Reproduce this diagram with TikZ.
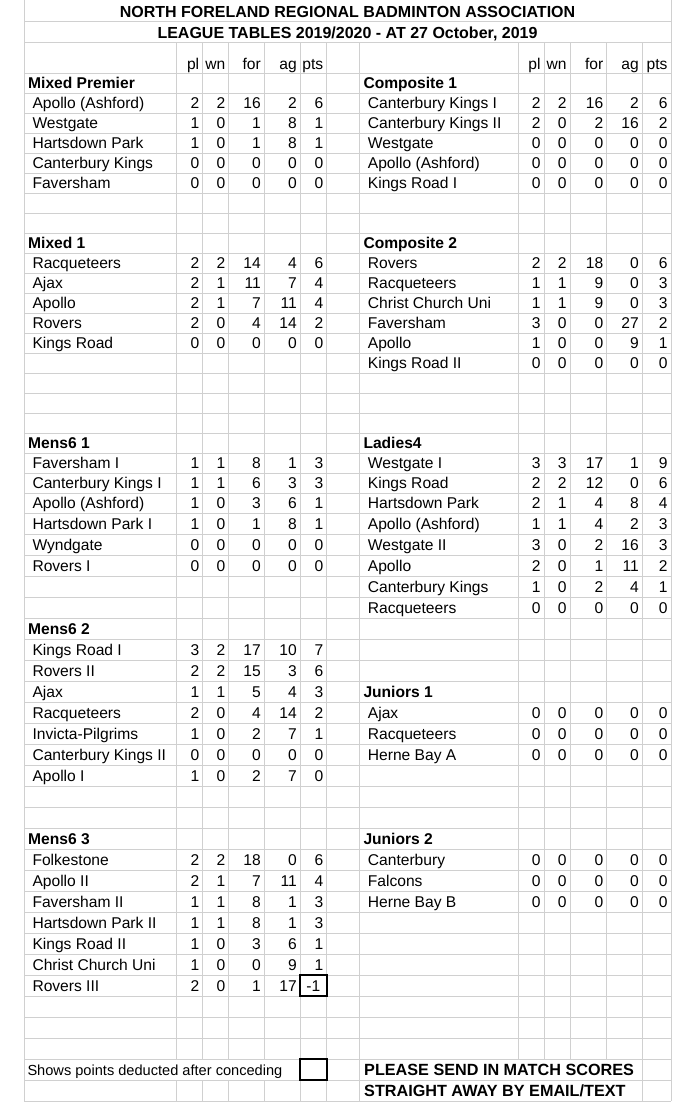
\documentclass[tikz,border=0pt]{standalone}
\usepackage{fontspec}
\setmainfont{Liberation Sans}
\definecolor{gridc}{RGB}{208,208,208}
\begin{document}
\begin{tikzpicture}[x=1pt,y=-1pt,
  declare function={rt(\r)=(\r<=22)*(73.3+20*\r)+(\r>22)*(513.3+21*(\r-22));},
  grid/.style={draw=gridc,line width=1pt},
  boxc/.style={draw=black,line width=2pt},
  txt/.style={inner sep=0pt,font=\fontsize{15.6}{18}\selectfont},
  nm/.style={txt,anchor=base west},
  num/.style={txt,anchor=base east},
  hd/.style={inner sep=0pt,anchor=base west,font=\fontsize{15.6}{18}\selectfont\bfseries},
  ft/.style={inner sep=0pt,anchor=base west,font=\fontsize{16.2}{18}\selectfont\bfseries},
  ttl/.style={inner sep=0pt,anchor=base,font=\fontsize{16}{18}\selectfont\bfseries}]
\useasboundingbox[fill=white] (0,0) rectangle (696,1102);

% ---- grid ----
\draw[grid] (24,21.7) -- (671,21.7);
\draw[grid] (24,42.7) -- (671,42.7);
\foreach \r in {0,...,50}{
  \pgfmathsetmacro\yy{rt(\r)}
  \draw[grid] (24,\yy) -- (671,\yy);
}
\draw[grid] (24,0) -- (24,1101.3);
\draw[grid] (671,0) -- (671,1101.3);
\foreach \x in {300.3,326.7,359.3,642.3}{
  \draw[grid] (\x,42.7) -- (\x,1101.3);
}
\foreach \x in {176.7,202.7,228.7,264.3}{
  \draw[grid] (\x,42.7) -- (\x,1059.3);
  \draw[grid] (\x,1080.3) -- (\x,1101.3);
}
\foreach \x in {518.3,544,570,606.7}{
  \draw[grid] (\x,42.7) -- (\x,1059.3);
}

% ---- titles ----
\node[ttl] (title1) at (347.5,17.3) {NORTH FORELAND REGIONAL BADMINTON ASSOCIATION};
\node[ttl] (title2) at (347.5,38.3) {LEAGUE TABLES 2019/2020 - AT 27 October, 2019};

% ---- column headers ----
\foreach \t/\x in {pl/199.4,wn/225.4,for/261,ag/297,pts/323.4}{
  \node[num] (HL\t) at (\x,69.3) {\t};
}
\foreach \t/\x in {pl/540.7,wn/566.7,for/603.4,ag/639,pts/667.7}{
  \node[num] (HR\t) at (\x,69.3) {\t};
}

% ---- section headings ----
\foreach \r/\n in {0/Mixed Premier,8/Mixed 1,18/Mens6 1,27/Mens6 2,37/Mens6 3}{
  \pgfmathsetmacro\yb{rt(\r+1)-4.5}
  \node[hd] (SL\r) at (28,\yb) {\n};
}
\foreach \r/\n in {0/Composite 1,8/Composite 2,18/Ladies4,30/Juniors 1,37/Juniors 2}{
  \pgfmathsetmacro\yb{rt(\r+1)-4.5}
  \node[hd] (SR\r) at (363.3,\yb) {\n};
}

% ---- left tables ----
\foreach \r/\n/\a/\b/\c/\d/\e in {
  1/Apollo (Ashford)/2/2/16/2/6,
  2/Westgate/1/0/1/8/1,
  3/Hartsdown Park/1/0/1/8/1,
  4/Canterbury Kings/0/0/0/0/0,
  5/Faversham/0/0/0/0/0,
  9/Racqueteers/2/2/14/4/6,
  10/Ajax/2/1/11/7/4,
  11/Apollo/2/1/7/11/4,
  12/Rovers/2/0/4/14/2,
  13/Kings Road/0/0/0/0/0,
  19/Faversham I/1/1/8/1/3,
  20/Canterbury Kings I/1/1/6/3/3,
  21/Apollo (Ashford)/1/0/3/6/1,
  22/Hartsdown Park I/1/0/1/8/1,
  23/Wyndgate/0/0/0/0/0,
  24/Rovers I/0/0/0/0/0,
  28/Kings Road I/3/2/17/10/7,
  29/Rovers II/2/2/15/3/6,
  30/Ajax/1/1/5/4/3,
  31/Racqueteers/2/0/4/14/2,
  32/Invicta-Pilgrims/1/0/2/7/1,
  33/Canterbury Kings II/0/0/0/0/0,
  34/Apollo I/1/0/2/7/0,
  38/Folkestone/2/2/18/0/6,
  39/Apollo II/2/1/7/11/4,
  40/Faversham II/1/1/8/1/3,
  41/Hartsdown Park II/1/1/8/1/3,
  42/Kings Road II/1/0/3/6/1,
  43/Christ Church Uni/1/0/0/9/1}{
  \pgfmathsetmacro\yb{rt(\r+1)-4.5}
  \node[nm] (LN\r) at (32.3,\yb) {\n};
  \node[num] (LA\r) at (199.4,\yb) {\a};
  \node[num] (LB\r) at (225.4,\yb) {\b};
  \node[num] (LC\r) at (261,\yb) {\c};
  \node[num] (LD\r) at (297,\yb) {\d};
  \node[num] (LE\r) at (323.4,\yb) {\e};
}
% Rovers III row
\pgfmathsetmacro\yb{rt(45)-4.5}
\node[nm] (LN44) at (32.3,\yb) {Rovers III};
\node[num] (LA44) at (199.4,\yb) {2};
\node[num] (LB44) at (225.4,\yb) {0};
\node[num] (LC44) at (261,\yb) {1};
\node[num] (LD44) at (297,\yb) {17};
\node[num] (LE44) at (320.5,\yb) {-1};

% ---- right tables ----
\foreach \r/\n/\a/\b/\c/\d/\e in {
  1/Canterbury Kings I/2/2/16/2/6,
  2/Canterbury Kings II/2/0/2/16/2,
  3/Westgate/0/0/0/0/0,
  4/Apollo (Ashford)/0/0/0/0/0,
  5/Kings Road I/0/0/0/0/0,
  9/Rovers/2/2/18/0/6,
  10/Racqueteers/1/1/9/0/3,
  11/Christ Church Uni/1/1/9/0/3,
  12/Faversham/3/0/0/27/2,
  13/Apollo/1/0/0/9/1,
  14/Kings Road II/0/0/0/0/0,
  19/Westgate I/3/3/17/1/9,
  20/Kings Road/2/2/12/0/6,
  21/Hartsdown Park/2/1/4/8/4,
  22/Apollo (Ashford)/1/1/4/2/3,
  23/Westgate II/3/0/2/16/3,
  24/Apollo/2/0/1/11/2,
  25/Canterbury Kings/1/0/2/4/1,
  26/Racqueteers/0/0/0/0/0,
  31/Ajax/0/0/0/0/0,
  32/Racqueteers/0/0/0/0/0,
  33/Herne Bay A/0/0/0/0/0,
  38/Canterbury/0/0/0/0/0,
  39/Falcons/0/0/0/0/0,
  40/Herne Bay B/0/0/0/0/0}{
  \pgfmathsetmacro\yb{rt(\r+1)-4.5}
  \node[nm] (RN\r) at (367.7,\yb) {\n};
  \node[num] (RA\r) at (540.7,\yb) {\a};
  \node[num] (RB\r) at (566.7,\yb) {\b};
  \node[num] (RC\r) at (603.4,\yb) {\c};
  \node[num] (RD\r) at (639,\yb) {\d};
  \node[num] (RE\r) at (667.7,\yb) {\e};
}

% ---- boxes and footer ----
\draw[boxc] (300.3,{rt(44)}) rectangle (326.7,{rt(45)});
\draw[boxc] (300.3,{rt(48)}) rectangle (326.7,{rt(49)});
\node[inner sep=0pt,anchor=base west,font=\fontsize{14.6}{17}\selectfont] (legend) at (27.3,{rt(49)-5}) {Shows points deducted after conceding};
\node[ft] (send1) at (364,{rt(49)-5}) {PLEASE SEND IN MATCH SCORES};
\node[ft] (send2) at (364,{rt(50)-4.6}) {STRAIGHT AWAY BY EMAIL/TEXT};
\end{tikzpicture}
\end{document}
